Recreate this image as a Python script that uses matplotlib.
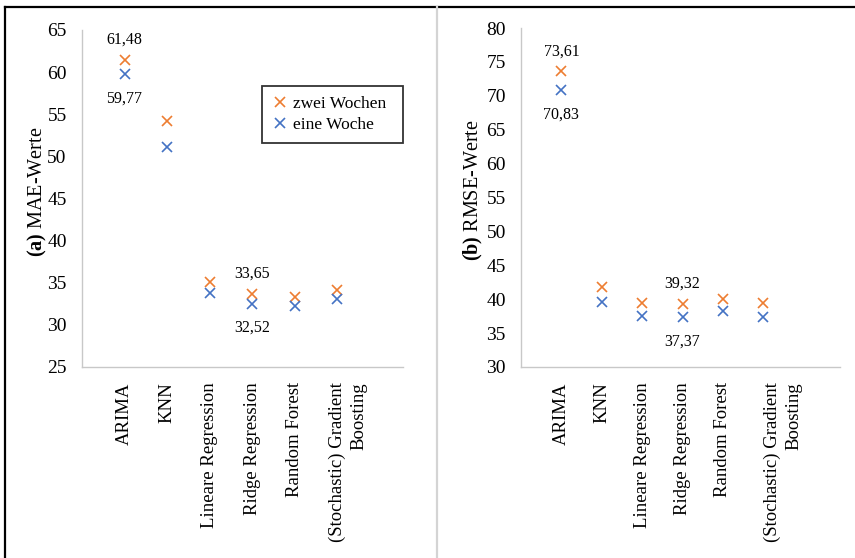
import matplotlib
matplotlib.use("Agg")
import matplotlib.pyplot as plt
import matplotlib.transforms as mtransforms
from matplotlib.lines import Line2D

plt.rcParams["font.family"] = ["Liberation Serif", "DejaVu Serif"]
plt.rcParams["mathtext.fontset"] = "custom"
plt.rcParams["mathtext.rm"] = "Liberation Serif"
plt.rcParams["mathtext.bf"] = "Liberation Serif:bold"

# ---- Daten ----
modelle = ["ARIMA", "KNN", "Lineare Regression", "Ridge Regression",
           "Random Forest", "(Stochastic) Gradient\nBoosting"]
pos = [1, 2, 3, 4, 5, 6]

mae_zwei = [61.48, 54.25, 35.10, 33.65, 33.35, 34.10]
mae_eine = [59.77, 51.15, 33.75, 32.52, 32.24, 33.07]

rmse_zwei = [73.61, 41.80, 39.50, 39.32, 40.05, 39.40]
rmse_eine = [70.83, 39.65, 37.45, 37.37, 38.25, 37.35]

ORANGE = "#ED7D31"
BLAU = "#4472C4"
GRAU = "#c8c8c8"

fig = plt.figure(figsize=(8.55, 5.58), dpi=100)
ax1 = fig.add_axes([0.0959, 0.3423, 0.3754, 0.604])
ax2 = fig.add_axes([0.6094, 0.3423, 0.3731, 0.6075])


def panel(ax, zwei, eine, ylim, xmax, ylabel, lpos, shift, beschriftet):
    ax.plot(pos, zwei, ls="none", marker="x", ms=7, mew=1.2,
            color=ORANGE, label="zwei Wochen")
    ax.plot(pos, eine, ls="none", marker="x", ms=7, mew=1.2,
            color=BLAU, label="eine Woche")
    ax.set_xlim(0, xmax)
    ax.set_ylim(*ylim)
    ax.set_yticks(range(ylim[0], ylim[1] + 1, 5))
    ax.set_xticks(pos)
    ax.set_xticklabels(modelle, rotation=90, fontsize=13.5,
                       multialignment="right", linespacing=1.35)
    ax.tick_params(axis="both", length=0)
    ax.tick_params(axis="y", pad=11, labelsize=14)
    ax.tick_params(axis="x", pad=11)
    for s in ["top", "right"]:
        ax.spines[s].set_visible(False)
    for s in ["left", "bottom"]:
        ax.spines[s].set_color(GRAU)
        ax.spines[s].set_linewidth(1.0)
    ax.set_ylabel(ylabel, fontsize=14.5)
    ax.yaxis.set_label_coords(*lpos)

    # Werte für ARIMA und Ridge Regression
    for i in beschriftet:
        ax.annotate(f"{zwei[i]:.2f}".replace(".", ","), (pos[i], zwei[i]),
                    xytext=(0, 14.5), textcoords="offset points",
                    ha="center", va="center", fontsize=11.5)
        ax.annotate(f"{eine[i]:.2f}".replace(".", ","), (pos[i], eine[i]),
                    xytext=(0, -17.5), textcoords="offset points",
                    ha="center", va="center", fontsize=11.5)

    # zweizeiliges Label etwas nach rechts schieben
    lbl = ax.get_xticklabels()[-1]
    lbl.set_transform(lbl.get_transform() +
                      mtransforms.ScaledTranslation(shift / 72, 0, fig.dpi_scale_trans))


panel(ax1, mae_zwei, mae_eine, (25, 65), 7.55,
      r"$\mathbf{(a)}$ MAE-Werte", (-0.103, 0.519), 8, [0, 3])
panel(ax2, rmse_zwei, rmse_eine, (30, 80), 7.9,
      r"$\mathbf{(b)}$ RMSE-Werte", (-0.113, 0.522), 14, [0, 3])

leg = ax1.legend(loc="center", bbox_to_anchor=(0.561, 0.668, 0.439, 0.163),
                 mode="expand", fontsize=12.5, frameon=True, fancybox=False,
                 handlelength=0.9, handletextpad=0.3, borderpad=0.6,
                 labelspacing=0.25, borderaxespad=0)
leg.get_frame().set_edgecolor("black")
leg.get_frame().set_linewidth(1.3)

# Rahmen und Trennlinie
fig.add_artist(Line2D([4.5 / 855, 1], [1 - 7 / 558, 1 - 7 / 558],
                      transform=fig.transFigure, color="black", lw=1.6))
fig.add_artist(Line2D([4.5 / 855, 4.5 / 855], [0, 1 - 7 / 558],
                      transform=fig.transFigure, color="black", lw=1.6))
fig.add_artist(Line2D([436.5 / 855, 436.5 / 855], [0, 1 - 7 / 558],
                      transform=fig.transFigure, color="#d4d4d4", lw=1.6))

fig.savefig("out.png", dpi=100)
